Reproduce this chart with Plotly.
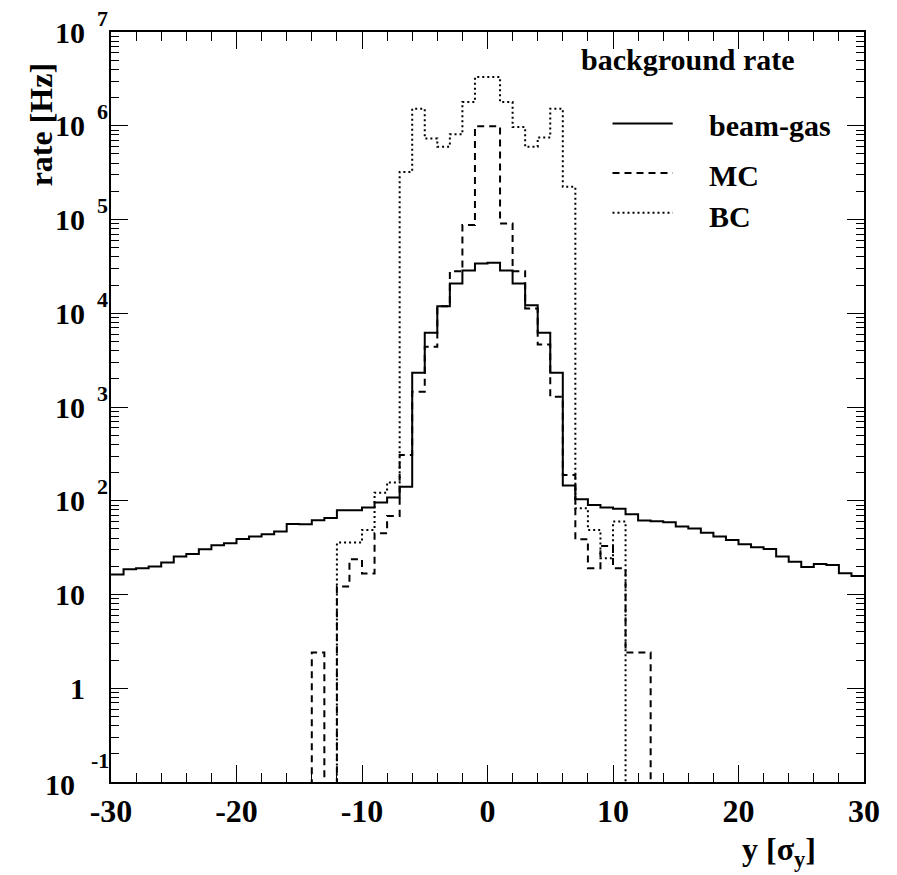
import plotly.graph_objects as go
import numpy as np

# ---------------- data ----------------
bin_edges = list(range(-30, 31))  # 60 bins of width 1 sigma_y

beam_gas = [16.3, 18.6, 19.0, 19.9, 21.9, 25.4, 27.1, 30.4, 33.6, 35.3,
            39.2, 41.5, 44.0, 46.9, 56.6, 56.0, 62.0, 65.6, 79.0, 79.0,
            84.5, 95.5, 108, 141, 2318, 6190, 11900, 20800, 28600, 34000,
            34500, 28600, 20800, 12200, 6190, 2318, 145, 104, 90.0, 84.5,
            82.0, 71.8, 61.4, 60.4, 59.0, 53.0, 50.5, 45.7, 41.5, 38.2,
            34.4, 31.9, 30.6, 25.4, 22.3, 19.6, 21.2, 20.6, 16.9, 15.8]

mc = [0]*16 + [2.4, 0, 12.2, 23.8, 16.7, 45.1, 68.9, 308, 1455, 4385,
               11900, 28100, 87100, 986000, 986000, 90800, 28100, 11270,
               4655, 1288, 188, 38.9, 19.1, 33.0, 19.1, 2.4, 2.4] + [0]*17

bc = [0]*18 + [35.8, 35.8, 48.9, 122, 157, 322000, 1520000, 731000, 596000,
               811000, 1790000, 3310000, 3310000, 1790000, 970000, 596000,
               748000, 1520000, 223000, 83.2, 48.9, 24.4, 60.0] + [0]*19

series_names = ["beam-gas", "MC", "BC"]
x_tick_vals = [-30, -20, -10, 0, 10, 20, 30]
x_tick_text = ["-30", "-20", "-10", "0", "10", "20", "30"]
y_tick_vals = [0.1, 1, 10, 1e2, 1e3, 1e4, 1e5, 1e6, 1e7]
y_tick_base = ["10", "1", "10", "10", "10", "10", "10", "10", "10"]
y_tick_exp = ["-1", "", "", "2", "3", "4", "5", "6", "7"]

# ---------------- figure ----------------
FONT = "Liberation Serif"
FLOOR = 1e-3  # empty bins drawn below the visible range (like ROOT log pads)

def step(vals):
    v = [x if x > 0 else FLOOR for x in vals]
    return bin_edges, v + [v[-1]]

styles = [dict(dash="solid", width=2),
          dict(dash="7px,5px", width=2),
          dict(dash="2px,3px", width=2)]

fig = go.Figure()
for name, vals, st in zip(series_names, [beam_gas, mc, bc], styles):
    xs, ys = step(vals)
    fig.add_trace(go.Scatter(x=xs, y=ys, mode="lines", line_shape="hv",
                             name=name, showlegend=False,
                             line=dict(color="black", width=st["width"], dash=st["dash"])))

minor_y = [m * 10.0**k for k in range(-1, 7) for m in range(2, 10)]

fig.update_xaxes(range=[-30, 30], showgrid=False, zeroline=False,
                 showline=True, linecolor="black", linewidth=1.5, mirror="allticks",
                 ticks="inside", ticklen=17, tickwidth=1, tickcolor="black",
                 tickmode="array", tickvals=x_tick_vals, ticktext=x_tick_text,
                 tickfont=dict(family=FONT, size=32, color="black", weight="bold"),
                 ticklabelstandoff=0,
                 minor=dict(ticks="inside", ticklen=9, tickwidth=1, tickcolor="black",
                            tickmode="linear", tick0=-30, dtick=2))
fig.update_yaxes(type="log", range=[-1, 7], showgrid=False, zeroline=False,
                 showline=True, linecolor="black", linewidth=1.5, mirror="allticks",
                 ticks="inside", ticklen=17, tickwidth=1, tickcolor="black",
                 tickmode="array", tickvals=y_tick_vals, showticklabels=False,
                 minor=dict(ticks="inside", ticklen=8, tickwidth=1, tickcolor="black",
                            tickmode="array", tickvals=minor_y))

annotations = []
# y tick labels in ROOT style: base and raised exponent
for v, b, e in zip(y_tick_vals, y_tick_base, y_tick_exp):
    ly = np.log10(v)
    if e == "-1":
        annotations.append(dict(x=0, xref="paper", y=ly, yref="y", text=b,
                                xanchor="right", yanchor="middle", xshift=-34, yshift=-2,
                                showarrow=False,
                                font=dict(family=FONT, size=30, color="black", weight="bold")))
        annotations.append(dict(x=0, xref="paper", y=ly, yref="y", text=e,
                                xanchor="right", yanchor="middle", xshift=0, yshift=22,
                                showarrow=False,
                                font=dict(family=FONT, size=22, color="black", weight="bold")))
    else:
        annotations.append(dict(x=0, xref="paper", y=ly, yref="y", text=b,
                                xanchor="right", yanchor="middle", xshift=-24, yshift=0,
                                showarrow=False,
                                font=dict(family=FONT, size=30, color="black", weight="bold")))
        if e:
            annotations.append(dict(x=0, xref="paper", y=ly, yref="y", text=e,
                                    xanchor="left", yanchor="middle", xshift=-15, yshift=14,
                                    showarrow=False, borderpad=0,
                                    font=dict(family=FONT, size=22, color="black", weight="bold")))

# axis titles
annotations.append(dict(x=-0.0925, xref="paper", y=0.876, yref="paper", text="rate [Hz]",
                        textangle=-90, xanchor="center", yanchor="middle", showarrow=False,
                        font=dict(family=FONT, size=32, color="black", weight="bold")))
annotations.append(dict(x=0.939, xref="paper", y=-0.093, yref="paper",
                        text="y [σ<sub>y</sub>]", xanchor="right", yanchor="middle",
                        showarrow=False,
                        font=dict(family=FONT, size=32, color="black", weight="bold")))

# legend
annotations.append(dict(x=0.911, xref="paper", y=0.964, yref="paper", text="background rate",
                        xanchor="right", yanchor="middle", showarrow=False,
                        font=dict(family=FONT, size=30, color="black", weight="bold")))
leg_y = [0.878, 0.812, 0.759]
lab_y = [0.876, 0.808, 0.754]
shapes = []
for name, st, yl, yt in zip(series_names, styles, leg_y, lab_y):
    shapes.append(dict(type="line", xref="paper", yref="paper", x0=0.666, x1=0.746,
                       y0=yl, y1=yl, line=dict(color="black", width=st["width"], dash=st["dash"])))
    annotations.append(dict(x=0.792, xref="paper", y=yt, yref="paper", text=name,
                            xanchor="left", yanchor="middle", showarrow=False,
                            font=dict(family=FONT, size=30, color="black", weight="bold")))

# page body has an 8px margin, so the figure is 8px smaller than the window
fig.update_layout(width=889, height=867,
                  margin=dict(l=103, r=33, t=24, b=93),
                  paper_bgcolor="white", plot_bgcolor="white",
                  annotations=annotations, shapes=shapes, showlegend=False)

fig.write_html("out.html")
